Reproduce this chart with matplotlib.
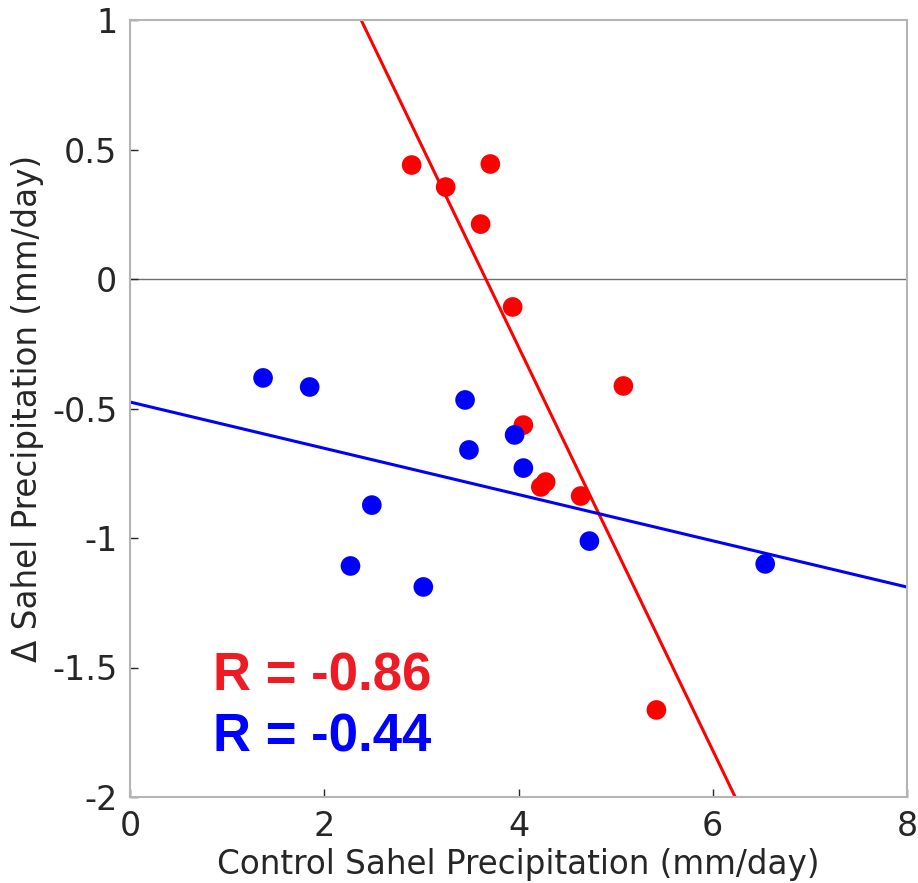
import matplotlib
matplotlib.use("Agg")
import matplotlib.pyplot as plt
import numpy as np

# Data
red_x = [2.90, 3.25, 3.71, 3.61, 3.94, 4.05, 4.23, 4.28, 4.64, 5.08, 5.42]
red_y = [0.44, 0.355, 0.444, 0.212, -0.108, -0.564, -0.803, -0.784, -0.838, -0.413, -1.664]
blue_x = [1.37, 1.85, 2.27, 2.49, 3.02, 3.45, 3.49, 3.96, 4.05, 4.73, 6.54]
blue_y = [-0.382, -0.417, -1.108, -0.873, -1.189, -0.467, -0.660, -0.602, -0.730, -1.012, -1.100]
red_fit = [-0.779, 2.854]    # slope, intercept
blue_fit = [-0.0893, -0.475]
red_r = "R = -0.86"
blue_r = "R = -0.44"
x_ticks = [0, 2, 4, 6, 8]
y_ticks = [-2, -1.5, -1, -0.5, 0, 0.5, 1]
y_ticklabels = ["-2", "-1.5", "-1", "-0.5", "0", "0.5", "1"]

fig = plt.figure(figsize=(9.18, 8.83), dpi=100)
ax = fig.add_axes([130/918, 1-797/883, 777/918, 777/883])
ax.set_xlim(0, 8)
ax.set_ylim(-2, 1)

ax.axhline(0, color="#6e6e6e", lw=1.0, zorder=1)

xx = np.array([0, 8])
ax.plot(xx, red_fit[0]*xx + red_fit[1], color="#ff0000", lw=2.2, zorder=2)
ax.plot(xx, blue_fit[0]*xx + blue_fit[1], color="#0000ff", lw=2.2, zorder=2)

ax.scatter(red_x, red_y, s=200, color="#ff0000", edgecolors="none", zorder=3)
ax.scatter(blue_x, blue_y, s=200, color="#0000ff", edgecolors="none", zorder=3)

ax.text(0.855, -1.587, red_r, color="#ed1c24", fontsize=38, fontweight="bold",
        family="Liberation Sans", ha="left", va="baseline")
ax.text(0.855, -1.826, blue_r, color="#0000ff", fontsize=38, fontweight="bold",
        family="Liberation Sans", ha="left", va="baseline")

ax.set_xticks(x_ticks)
ax.set_xticklabels([str(t) for t in x_ticks])
ax.set_yticks(y_ticks)
ax.set_yticklabels(y_ticklabels)
ax.tick_params(direction="in", length=6, width=1, color="#262626",
               labelsize=24, labelcolor="#262626", pad=9)
for s in ax.spines.values():
    s.set_color("#b4b4b4")
    s.set_linewidth(1.5)

ax.set_xlabel("Control Sahel Precipitation (mm/day)", fontsize=23.5, color="#262626", labelpad=4)
ax.set_ylabel("Δ Sahel Precipitation (mm/day)", fontsize=23.5, color="#262626", labelpad=6)

fig.savefig("out.png", dpi=100)
